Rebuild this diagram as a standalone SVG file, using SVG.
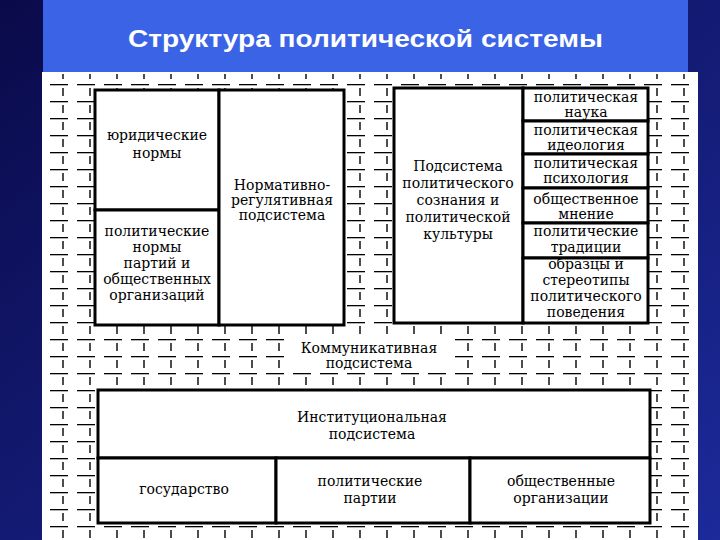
<svg xmlns="http://www.w3.org/2000/svg" width="720" height="540" viewBox="0 0 720 540">
<defs>
<linearGradient id="bg" x1="0" y1="0" x2="1" y2="1"><stop offset="0" stop-color="#0a0a4a"/><stop offset="1" stop-color="#1c2a9a"/></linearGradient>
<pattern id="hd" width="27" height="17" patternUnits="userSpaceOnUse" x="-4" y="-1">
<path d="M0 0.5H18" stroke="#000" stroke-width="1.6" fill="none"/>
<path d="M13 4V12" stroke="#000" stroke-width="1.4" fill="none"/>
</pattern>
<style>
.b{fill:#fff;stroke:#000;stroke-width:3}
.t{font-family:'DejaVu Serif','Liberation Serif',serif;font-size:14px;fill:#000;text-anchor:middle}
</style>
</defs>
<rect width="720" height="540" fill="url(#bg)"/>
<rect x="42" y="72" width="656" height="468" fill="#fff"/>
<rect x="42" y="74" width="656" height="466" fill="url(#hd)"/>
<rect x="43" y="0" width="645" height="72" fill="#3b63e6"/>
<text x="128" y="47" textLength="475" lengthAdjust="spacingAndGlyphs" font-family="Liberation Sans,Arial,sans-serif" font-size="23" font-weight="bold" fill="#fff">Структура политической системы</text>
<g id="comm"><rect x="290" y="338" width="160" height="34" fill="#fff"/>
<text class="t" x="369" y="353">Коммуникативная</text><text class="t" x="369" y="368">подсистема</text></g>
<g id="yur"><rect class="b" x="95" y="90" width="124" height="120"/><text class="t" x="157" y="140">юридические</text><text class="t" x="157" y="158">нормы</text></g>
<g id="pn"><rect class="b" x="95" y="210" width="124" height="115"/><text class="t" x="157" y="236">политические</text><text class="t" x="157" y="252">нормы</text><text class="t" x="157" y="268">партий и</text><text class="t" x="157" y="284">общественных</text><text class="t" x="157" y="300">организаций</text></g>
<g id="nr"><rect class="b" x="219" y="90" width="125" height="235"/><text class="t" x="282" y="190">Нормативно-</text><text class="t" x="282" y="205">регулятивная</text><text class="t" x="282" y="220">подсистема</text></g>
<g id="ps"><rect class="b" x="394" y="88" width="129" height="235"/><text class="t" x="458" y="171">Подсистема</text><text class="t" x="458" y="188">политического</text><text class="t" x="458" y="205">сознания и</text><text class="t" x="458" y="222">политической</text><text class="t" x="458" y="239">культуры</text></g>
<g id="r1"><rect class="b" x="523" y="88" width="125" height="33"/><text class="t" x="586" y="102">политическая</text><text class="t" x="586" y="117">наука</text></g>
<g id="r2"><rect class="b" x="523" y="121" width="125" height="33"/><text class="t" x="586" y="135">политическая</text><text class="t" x="586" y="150">идеология</text></g>
<g id="r3"><rect class="b" x="523" y="154" width="125" height="34"/><text class="t" x="586" y="168">политическая</text><text class="t" x="586" y="183">психология</text></g>
<g id="r4"><rect class="b" x="523" y="188" width="125" height="35"/><text class="t" x="586" y="204">общественное</text><text class="t" x="586" y="219">мнение</text></g>
<g id="r5"><rect class="b" x="523" y="223" width="125" height="35"/><text class="t" x="586" y="236">политические</text><text class="t" x="586" y="252">традиции</text></g>
<g id="r6"><rect class="b" x="523" y="258" width="125" height="65"/><text class="t" x="586" y="269">образцы и</text><text class="t" x="586" y="285">стереотипы</text><text class="t" x="586" y="301">политического</text><text class="t" x="586" y="317">поведения</text></g>
<g id="inst"><rect class="b" x="98" y="390" width="552" height="68"/><text class="t" x="372" y="422">Институциональная</text><text class="t" x="372" y="439">подсистема</text></g>
<g id="gos"><rect class="b" x="98" y="458" width="178" height="65"/><text class="t" x="184" y="494">государство</text></g>
<g id="part"><rect class="b" x="276" y="458" width="194" height="65"/><text class="t" x="370" y="486">политические</text><text class="t" x="370" y="503">партии</text></g>
<g id="org"><rect class="b" x="470" y="458" width="180" height="65"/><text class="t" x="561" y="486">общественные</text><text class="t" x="561" y="503">организации</text></g>
<g id="connectors"/>
</svg>
